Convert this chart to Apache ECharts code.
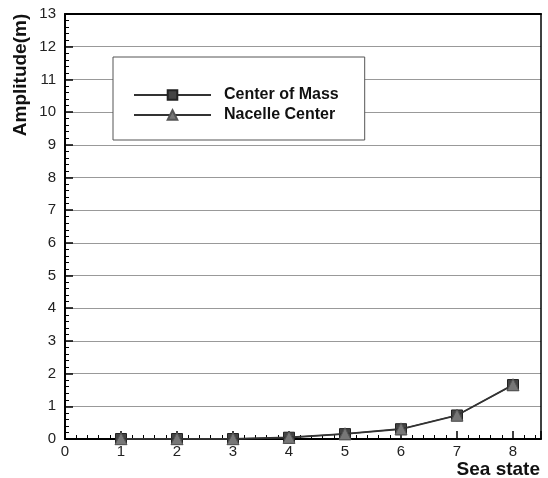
<!DOCTYPE html>
<html><head><meta charset="utf-8">
<script src="https://cdn.jsdelivr.net/npm/echarts@6/dist/echarts.min.js"></script>
<style>html,body{margin:0;padding:0;background:#fff}#c{width:548px;height:478px}</style>
</head><body><div id="c"></div>
<script>
const seaStates = [1, 2, 3, 4, 5, 6, 7, 8];
const centerOfMass = [0.0, 0.0, 0.0, 0.04, 0.15, 0.30, 0.72, 1.65];
const nacelleCenter = [0.01, 0.01, 0.01, 0.05, 0.16, 0.31, 0.73, 1.66];
const seriesNames = ['Center of Mass', 'Nacelle Center'];
const xTitle = 'Sea state';
const yTitle = 'Amplitude(m)';

const FONT = '"Liberation Sans", Arial, sans-serif';
const chart = echarts.init(document.getElementById('c'));
chart.setOption({
  backgroundColor: '#fff',
  animation: false,
  grid: { left: 65, right: 7, top: 14, bottom: 39, show: false, containLabel: false, outerBoundsMode: 'none' },
  graphic: [
    { type: 'text', x: 21, y: 75, rotation: Math.PI / 2,
      style: { text: yTitle, font: 'bold 19px ' + FONT, fill: '#111', align: 'center', verticalAlign: 'middle' } },
    { type: 'text', x: 540, y: 470,
      style: { text: xTitle, font: 'bold 19px ' + FONT, fill: '#111', align: 'right', verticalAlign: 'middle' } }
  ],
  legend: {
    left: 113, top: 57,
    orient: 'vertical',
    data: seriesNames,
    itemWidth: 77, itemHeight: 12, itemGap: 4,
    padding: [30, 26, 17, 20],
    borderColor: '#555', borderWidth: 1, backgroundColor: '#fff',
    textStyle: { fontFamily: FONT, fontWeight: 'bold', fontSize: 16, color: '#111', padding: [0, 0, 0, 8] }
  },
  xAxis: [{
    type: 'value', min: 0, max: 8.5, interval: 1,
    axisLine: { show: true, onZero: false, lineStyle: { color: '#000', width: 2 } },
    axisTick: { show: true, inside: true, length: 8, lineStyle: { color: '#000', width: 1.5 } },
    minorTick: { show: true, splitNumber: 5, length: 4, lineStyle: { color: '#000', width: 1 } },
    axisLabel: { fontFamily: FONT, fontSize: 15, color: '#222', margin: 5, showMaxLabel: false,
      formatter: v => Number.isInteger(v) ? String(v) : '' },
    splitLine: { show: false }
  }, {
    type: 'value', position: 'top', min: 0, max: 8.5,
    axisLine: { show: true, onZero: false, lineStyle: { color: '#000', width: 2 } },
    axisTick: { show: false }, axisLabel: { show: false }, splitLine: { show: false }
  }],
  yAxis: [{
    type: 'value', min: 0, max: 13, interval: 1,
    axisLine: { show: true, onZero: false, lineStyle: { color: '#000', width: 2 } },
    axisTick: { show: true, inside: true, length: 8, lineStyle: { color: '#000', width: 1.5 } },
    minorTick: { show: true, splitNumber: 5, length: 4, lineStyle: { color: '#000', width: 1 } },
    axisLabel: { fontFamily: FONT, fontSize: 15, color: '#222', margin: 9 },
    splitLine: { show: true, lineStyle: { color: '#999', width: 1 } }
  }, {
    type: 'value', position: 'right', min: 0, max: 13,
    axisLine: { show: true, onZero: false, lineStyle: { color: '#000', width: 1.5 } },
    axisTick: { show: false }, axisLabel: { show: false }, splitLine: { show: false }
  }],
  series: [{
    name: seriesNames[0], type: 'line',
    data: seaStates.map((x, i) => [x, centerOfMass[i]]),
    symbol: 'rect', symbolSize: 11,
    lineStyle: { color: '#333', width: 1.5 },
    itemStyle: { color: '#444', borderColor: '#222', borderWidth: 1 },
    clip: false, z: 3
  }, {
    name: seriesNames[1], type: 'line',
    data: seaStates.map((x, i) => [x, nacelleCenter[i]]),
    symbol: 'triangle', symbolSize: 12,
    lineStyle: { color: '#333', width: 1.5 },
    itemStyle: { color: '#777', borderColor: '#555', borderWidth: 1 },
    clip: false, z: 4
  }]
});
</script></body></html>
